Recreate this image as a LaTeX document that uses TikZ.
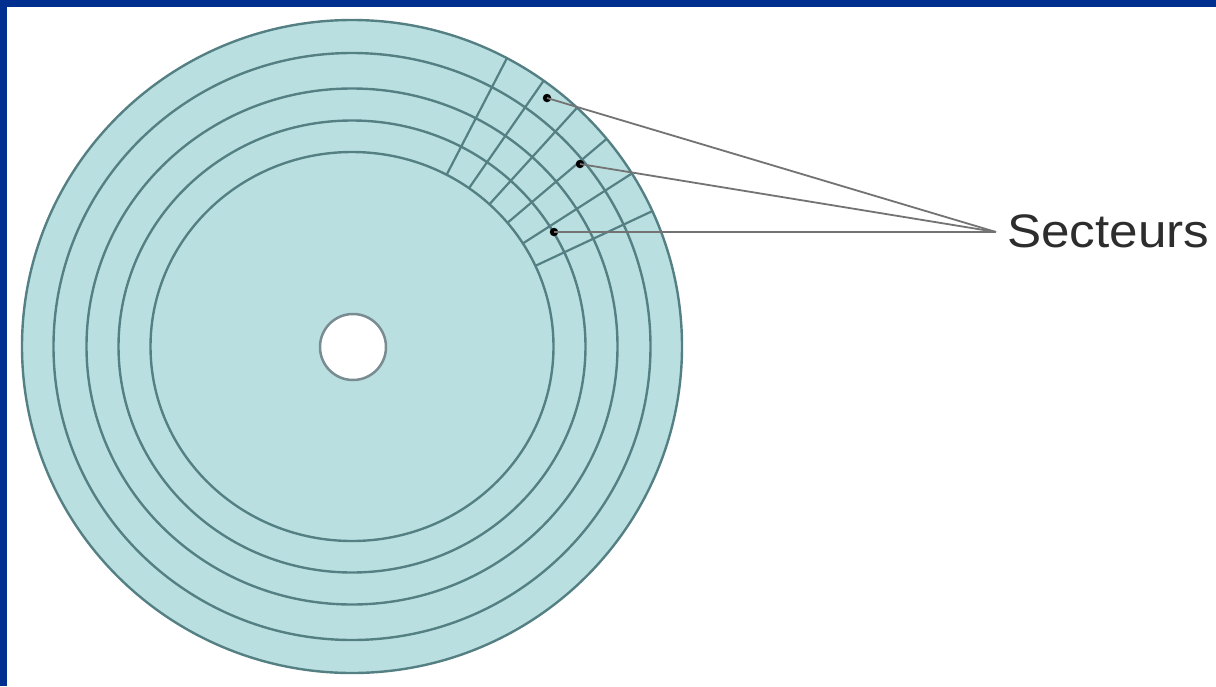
\documentclass[tikz,border=0pt]{standalone}
\usepackage{fontspec}
\setmainfont{Liberation Sans}
\usetikzlibrary{calc}
\definecolor{bordercol}{RGB}{0,48,143}
\definecolor{diskfill}{RGB}{186,223,225}
\definecolor{ringcol}{RGB}{84,128,132}
\definecolor{holeline}{RGB}{120,140,145}
\definecolor{leadercol}{RGB}{115,115,115}
\definecolor{textcol}{RGB}{45,45,45}
\tikzset{
  ringline/.style={draw=ringcol,line width=2.4pt},
  sectorline/.style={draw=ringcol,line width=2.2pt},
  leaderline/.style={draw=leadercol,line width=1.8pt},
  dotmark/.style={circle,fill=black,inner sep=0pt,minimum size=8.5pt},
}
\begin{document}
\begin{tikzpicture}[x=1pt,y=-1pt]
\useasboundingbox (0,0) rectangle (1216,686);
\fill[white] (0,0) rectangle (1216,686);
\fill[bordercol] (0,0) rectangle (1216,7);
\fill[bordercol] (0,0) rectangle (7,686);
\coordinate (c) at (352,346.5);
\fill[diskfill] (c) ellipse [x radius=330pt, y radius=326.5pt];
% sector boundaries
\foreach \a in {62,54.5,47,39.5,32,24.5}{
  \draw[sectorline] ($(c)+({201.5*cos(\a)},{-194.5*sin(\a)})$) -- ($(c)+({330*cos(\a)},{-326.5*sin(\a)})$);
}
% tracks
\foreach \rx/\ry in {330/326.5,298.5/293.5,265.5/258,233.5/226,201.5/194.5}{
  \draw[ringline] (c) ellipse [x radius=\rx pt, y radius=\ry pt];
}
% hole
\draw[draw=holeline,line width=2.5pt,fill=white] (353,347) circle [radius=33pt];
% labels
\node[text=textcol,font=\fontsize{47}{47}\selectfont,anchor=west,inner sep=0pt,xscale=1.09] (lab) at (1007,231) {Secteurs};
\coordinate (meet) at (996,232);
\node[dotmark] (d1) at (547,98) {};
\node[dotmark] (d2) at (580,164) {};
\node[dotmark] (d3) at (554,232) {};
\draw[leaderline] (d1.center) -- (meet);
\draw[leaderline] (d2.center) -- (meet);
\draw[leaderline] (d3.center) -- (meet);
\end{tikzpicture}
\end{document}
